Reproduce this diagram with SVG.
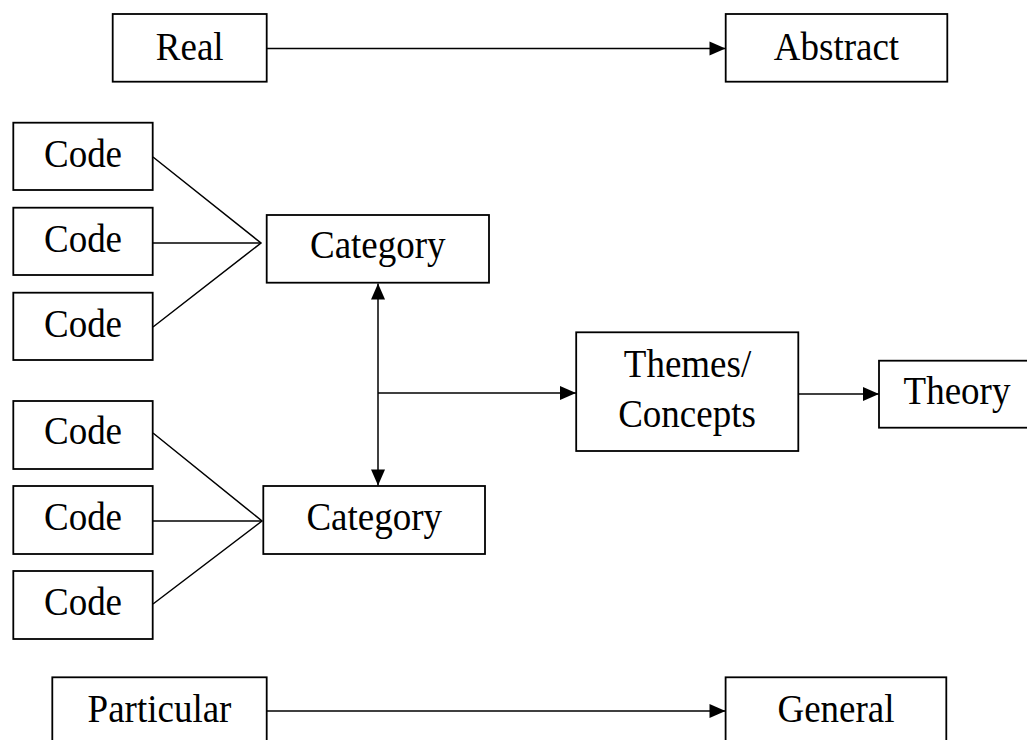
<svg xmlns="http://www.w3.org/2000/svg" width="1027" height="740" viewBox="0 0 1027 740">
<style>
.box{fill:#fff;stroke:#000;stroke-width:1.8}
.ln{fill:none;stroke:#000;stroke-width:1.5}
.t{font-family:"Liberation Serif","Times New Roman",serif;font-size:37px;fill:#000;text-anchor:middle}
</style>
<defs>
<marker id="ah" markerUnits="userSpaceOnUse" markerWidth="18" markerHeight="18" viewBox="-1 -2 18 18" refX="16" refY="7" orient="auto">
<path d="M0,0 L16,7 L0,14 z" fill="#000"/>
</marker>
</defs>
<rect width="1027" height="740" fill="#fff"/>
<g id="connectors">
<line class="ln" x1="267" y1="48.5" x2="725.5" y2="48.5" marker-end="url(#ah)"/>
<line class="ln" x1="267" y1="711" x2="725.5" y2="711" marker-end="url(#ah)"/>
<polyline class="ln" points="153,157 261,243 153,327"/>
<line class="ln" x1="153" y1="243" x2="261" y2="243"/>
<polyline class="ln" points="153,433 262,521 153,604"/>
<line class="ln" x1="153" y1="521" x2="262" y2="521"/>
<line class="ln" x1="378" y1="380" x2="378" y2="283.5" marker-end="url(#ah)"/>
<line class="ln" x1="378" y1="380" x2="378" y2="485.5" marker-end="url(#ah)"/>
<line class="ln" x1="378" y1="393" x2="576" y2="393" marker-end="url(#ah)"/>
<line class="ln" x1="798" y1="394" x2="879" y2="394" marker-end="url(#ah)"/>
</g>
<g id="real"><rect class="box" x="112.7" y="14" width="154" height="67.7"/><text class="t" transform="translate(189.7,60) scale(1,1.09)">Real</text></g>
<g id="abstract"><rect class="box" x="725.7" y="14" width="221.6" height="67.7"/><text class="t" transform="translate(836.5,60) scale(1,1.09)">Abstract</text></g>
<g id="code1"><rect class="box" x="13.3" y="122.7" width="139.4" height="67.3"/><text class="t" transform="translate(83,167.3) scale(1,1.09)">Code</text></g>
<g id="code2"><rect class="box" x="13.3" y="207.7" width="139.4" height="67.3"/><text class="t" transform="translate(83,252) scale(1,1.09)">Code</text></g>
<g id="code3"><rect class="box" x="13.3" y="292.7" width="139.4" height="67.3"/><text class="t" transform="translate(83,337.3) scale(1,1.09)">Code</text></g>
<g id="code4"><rect class="box" x="13.3" y="401" width="139.4" height="68"/><text class="t" transform="translate(83,444) scale(1,1.09)">Code</text></g>
<g id="code5"><rect class="box" x="13.3" y="486" width="139.4" height="68"/><text class="t" transform="translate(83,530) scale(1,1.09)">Code</text></g>
<g id="code6"><rect class="box" x="13.3" y="571" width="139.4" height="68"/><text class="t" transform="translate(83,615) scale(1,1.09)">Code</text></g>
<g id="category1"><rect class="box" x="266.7" y="215" width="222.3" height="67.7"/><text class="t" transform="translate(377.8,258.3) scale(1,1.09)">Category</text></g>
<g id="category2"><rect class="box" x="263.3" y="486" width="221.7" height="68"/><text class="t" transform="translate(374.2,530) scale(1,1.09)">Category</text></g>
<g id="themes"><rect class="box" x="576.2" y="332.3" width="222.1" height="118.7"/><text class="t" transform="translate(687.5,376.7) scale(1,1.09)">Themes/</text><text class="t" transform="translate(687,426.7) scale(1,1.09)">Concepts</text></g>
<g id="theory"><rect class="box" x="879" y="360.7" width="160" height="67"/><text class="t" transform="translate(957,404) scale(1,1.09)">Theory</text></g>
<g id="particular"><rect class="box" x="52.3" y="677.3" width="214.4" height="80"/><text class="t" transform="translate(159.5,721.7) scale(1,1.09)">Particular</text></g>
<g id="general"><rect class="box" x="725.6" y="677.3" width="220.7" height="80"/><text class="t" transform="translate(836,721.7) scale(1,1.09)">General</text></g>
</svg>
